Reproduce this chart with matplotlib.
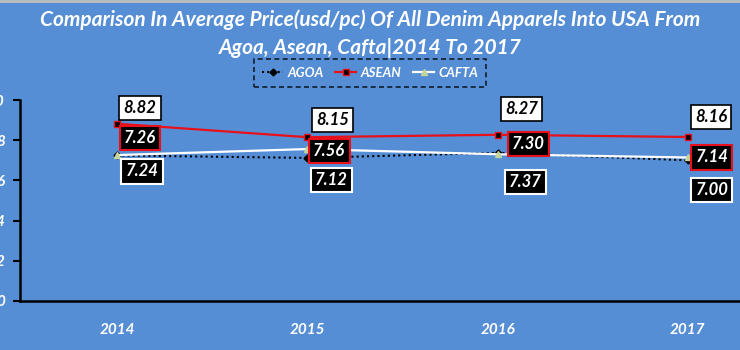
import matplotlib
matplotlib.use("Agg")
import matplotlib.pyplot as plt
from matplotlib.lines import Line2D

years = ["2014", "2015", "2016", "2017"]
agoa = [7.24, 7.12, 7.37, 7.00]
asean = [8.82, 8.15, 8.27, 8.16]
cafta = [7.26, 7.56, 7.30, 7.14]
yticks = [0, 2, 4, 6, 8, 10]

# label offsets in pixels (dx, dy) for each series
off_asean = [(23, 16), (25, 17), (24, 26), (23, 20)]
off_cafta = [(23, 17), (22, -2), (31, 10), (24, 0)]
off_agoa = [(25, -16), (24, -22), (28, -29), (24, -30)]

bg = "#558ed5"
plt.rcParams["font.family"] = ["Lato", "DejaVu Sans"]

fig = plt.figure(figsize=(7.4, 3.5), dpi=100, facecolor=bg)
ax = fig.add_axes([20 / 740, 1 - 301 / 350, 763 / 740, 201 / 350])
ax.set_facecolor(bg)

x = list(range(len(years)))
ax.plot(x, agoa, color="black", ls=(0, (1, 1.5)), lw=1.5, marker="D", ms=3.5,
        mfc="black", mec="black", label="AGOA", zorder=3)
ax.plot(x, asean, color="#e8101a", lw=1.6, marker="s", ms=5,
        mfc="black", mec="#e8101a", label="ASEAN", zorder=3)
ax.plot(x, cafta, color="white", lw=1.6, marker="^", ms=5,
        mfc="#c3d69b", mec="#c3d69b", label="CAFTA", zorder=4)

txt = dict(fontsize=12, fontweight="bold", fontstyle="italic",
           ha="center", va="center", textcoords="offset pixels", zorder=5)
for i in x:
    ax.annotate(f"{asean[i]:.2f}", (i, asean[i]), xytext=off_asean[i], color="black",
                bbox=dict(boxstyle="square,pad=0.25", fc="white", ec="black", lw=1.2), **txt)
    ax.annotate(f"{cafta[i]:.2f}", (i, cafta[i]), xytext=off_cafta[i], color="white",
                bbox=dict(boxstyle="square,pad=0.25", fc="black", ec="#e8101a", lw=1.5), **txt)
    ax.annotate(f"{agoa[i]:.2f}", (i, agoa[i]), xytext=off_agoa[i], color="white",
                bbox=dict(boxstyle="square,pad=0.25", fc="black", ec="white", lw=1.5), **txt)

ax.set_xlim(-0.51, 3.5)
ax.set_ylim(0, 10)
ax.set_yticks(yticks)
ax.set_yticklabels([str(v) for v in yticks], color="white", fontsize=11,
                   fontweight="bold", fontstyle="italic")
ax.tick_params(axis="y", length=5, width=1.5, color="black", pad=6)
ax.set_xticks(x)
ax.set_xticklabels(years, color="white", fontsize=11, fontweight="bold", fontstyle="italic")
ax.tick_params(axis="x", length=0, pad=16)
for s in ["top", "right"]:
    ax.spines[s].set_visible(False)
for s in ["left", "bottom"]:
    ax.spines[s].set_linewidth(1.8)
    ax.spines[s].set_color("black")

fig.text(0.5, 1 - 20 / 350, "Comparison In Average Price(usd/pc) Of All Denim Apparels Into USA From",
         ha="center", va="center", color="white", fontsize=15, fontweight="bold", fontstyle="italic")
fig.text(0.5, 1 - 48 / 350, "Agoa, Asean, Cafta|2014 To 2017",
         ha="center", va="center", color="white", fontsize=15, fontweight="bold", fontstyle="italic")

leg = fig.legend(handles=ax.get_lines(), loc="center", bbox_to_anchor=(370 / 740, 1 - 73 / 350),
                 ncol=3, frameon=True, handlelength=1.6, handletextpad=0.3,
                 columnspacing=0.9, borderpad=0.3, prop=dict(weight="bold", style="italic", size=9.5))
leg.get_frame().set_facecolor(bg)
leg.get_frame().set_edgecolor("black")
leg.get_frame().set_linestyle((0, (3, 2)))
leg.get_frame().set_linewidth(1.2)
leg.get_frame().set_boxstyle("square")
for t in leg.get_texts():
    t.set_color("white")

fig.add_artist(Line2D([0, 1], [0.997, 0.997], color="#bfbfbf", lw=2, transform=fig.transFigure))

fig.savefig("out.png", dpi=100, facecolor=bg)
